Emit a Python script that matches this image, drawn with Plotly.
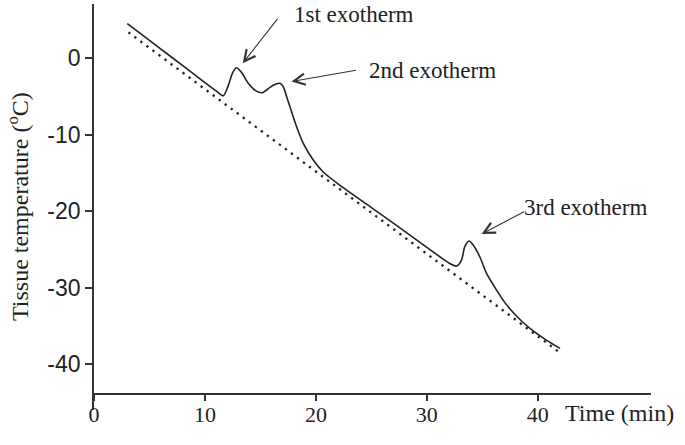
import plotly.graph_objects as go

# Measured tissue temperature curve (min, °C)
time_min = [3.0, 5.0, 7.0, 9.0, 11.0, 11.65, 12.1, 12.5, 12.85, 13.3, 13.9, 14.6, 15.16,
            15.86, 16.4, 16.76, 17.06, 17.36, 17.66, 18.26, 18.86, 19.76, 20.66, 22.46,
            25.0, 27.57, 30.0, 32.07, 32.67, 33.12, 33.42, 33.81, 34.17, 34.77, 35.38,
            36.28, 37.0, 37.8, 38.7, 39.7, 40.8, 42.0]
tissue_temp = [4.5, 2.3, 0.1, -2.1, -4.3, -4.93, -3.6, -1.9, -1.27, -1.9, -3.3, -4.3, -4.53,
               -3.83, -3.4, -3.31, -3.75, -5.05, -6.36, -8.98, -11.15, -13.33, -14.9, -16.95,
               -19.55, -22.2, -24.75, -26.85, -27.19, -26.4, -24.66, -23.92, -24.44, -25.97, -28.15,
               -30.33, -31.9, -33.3, -34.6, -35.8, -36.9, -37.95]

# Baseline (no exotherm) cooling line endpoints
base_time = [3.1, 41.8]
base_temp = [3.36, -38.3]

x_ticks = [0, 10, 20, 30, 40]
y_ticks = [0, -10, -20, -30, -40]
y_tick_text = ["0", "-10", "-20", "-30", "-40"]

labels = ["1st exotherm", "2nd exotherm", "3rd exotherm"]
label_x = [17.84, 24.57, 38.56]
label_y = [5.75, -1.57, -19.6]
arrow_x = [13.4, 17.8, 34.93]
arrow_y = [-0.69, -3.07, -23.0]
arrow_dx = [36, 66, 44]
arrow_dy = [-46, -11.5, -23]

serif = "Liberation Serif, Times New Roman, serif"
sans = "Liberation Sans, Arial, sans-serif"
ink = "#222222"

fig = go.Figure()
fig.add_trace(go.Scatter(x=base_time, y=base_temp, mode="lines",
                         line=dict(color=ink, width=2.3, dash="2.3px,5.2px"),
                         hoverinfo="skip", showlegend=False))
fig.add_trace(go.Scatter(x=time_min, y=tissue_temp, mode="lines",
                         line=dict(color=ink, width=1.6, shape="spline", smoothing=0.8),
                         hoverinfo="skip", showlegend=False))

ymin, ymax = -46.0, 7.06
xaxis_val = -43.9

annotations = []
for t, tx, ty, hx, hy, dx, dy in zip(labels, label_x, label_y, arrow_x, arrow_y, arrow_dx, arrow_dy):
    annotations.append(dict(x=tx, y=ty, xref="x", yref="y", text=t, showarrow=False,
                            xanchor="left", yanchor="middle",
                            font=dict(family=serif, size=23, color=ink)))
    annotations.append(dict(x=hx, y=hy, xref="x", yref="y", text="", showarrow=True,
                            ax=dx, ay=dy, arrowhead=5, arrowsize=2.0, arrowwidth=1.1,
                            arrowcolor="#333333"))

annotations.append(dict(x=0.842, y=-0.008, xref="paper", yref="paper", text="Time (min)",
                        showarrow=False, xanchor="left", yanchor="middle",
                        font=dict(family=serif, size=24, color=ink)))
annotations.append(dict(x=-0.1364, y=0.5, xref="paper", yref="paper",
                        text="Tissue temperature (<sup>o</sup>C)", textangle=-90,
                        showarrow=False, xanchor="center", yanchor="middle",
                        font=dict(family=serif, size=24, color=ink)))

fig.update_layout(
    width=685, height=445,
    margin=dict(l=94, r=34, t=4, b=35, autoexpand=False),
    plot_bgcolor="white", paper_bgcolor="white",
    annotations=annotations,
    xaxis=dict(range=[0, 50.2], tickvals=x_ticks, ticks="outside", ticklen=6,
               tickwidth=1.5, tickcolor="#333333", showline=True, linecolor="#333333",
               linewidth=1.6, showgrid=False, zeroline=False, anchor="free",
               position=(xaxis_val - ymin) / (ymax - ymin), automargin=False,
               ticklabelstandoff=-5,
               tickfont=dict(family=serif, size=22, color=ink)),
    yaxis=dict(range=[ymin, ymax], tickvals=y_ticks, ticktext=y_tick_text,
               ticks="outside", ticklen=7, automargin=False,
               tickwidth=1.5, tickcolor="#333333", showline=True, linecolor="#333333",
               linewidth=1.6, showgrid=False, zeroline=False,
               tickfont=dict(family=sans, size=23, color=ink)),
)

fig.write_html("out.html", config={"displayModeBar": False},
               post_script="document.body.style.margin='0';document.body.style.overflow='hidden';")
